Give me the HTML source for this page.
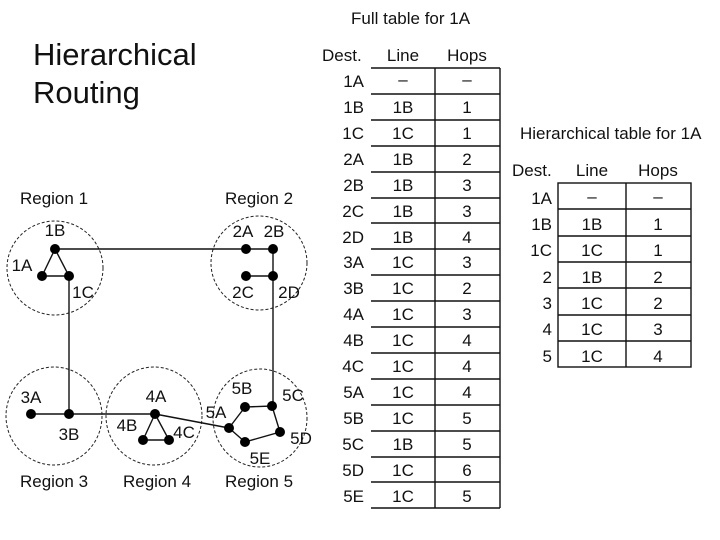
<!DOCTYPE html>
<html><head><meta charset="utf-8"><style>
html,body{margin:0;padding:0;background:#fff;}
svg{display:block;}
text{font-family:"Liberation Sans",Arial,sans-serif;fill:#111;}
</style></head><body>
<svg width="720" height="540" viewBox="0 0 720 540" xmlns="http://www.w3.org/2000/svg">
<text x="33" y="65" font-size="31">Hierarchical</text>
<text x="33" y="103" font-size="31">Routing</text>

<g fill="none" stroke="#222" stroke-width="1" stroke-dasharray="3,2">
<ellipse cx="55" cy="268" rx="48" ry="47"/>
<ellipse cx="259" cy="263" rx="48" ry="47"/>
<ellipse cx="54" cy="416" rx="48" ry="49"/>
<ellipse cx="154" cy="416" rx="48" ry="49"/>
<ellipse cx="260" cy="418" rx="47" ry="49"/>
</g>
<g stroke="#111" stroke-width="1.4" fill="none">
<polyline points="55,249 42,276 69,276 55,249"/>
<line x1="55" y1="249" x2="246" y2="249"/>
<line x1="246" y1="249" x2="273" y2="249"/>
<line x1="273" y1="249" x2="273" y2="407"/>
<line x1="246" y1="276" x2="273" y2="276"/>
<line x1="69" y1="276" x2="69" y2="414"/>
<line x1="31" y1="414" x2="155" y2="414"/>
<polyline points="155,414 143,440 169,440 155,414"/>
<line x1="155" y1="414" x2="229" y2="428"/>
<polyline points="229,428 245,407 272,406 280,432 245,442 229,428"/>
</g>
<g fill="#000">
<circle cx="55" cy="249" r="5"/><circle cx="42" cy="276" r="5"/><circle cx="69" cy="276" r="5"/>
<circle cx="246" cy="249" r="5"/><circle cx="273" cy="249" r="5"/><circle cx="246" cy="276" r="5"/><circle cx="273" cy="276" r="5"/>
<circle cx="31" cy="414" r="5"/><circle cx="69" cy="414" r="5"/>
<circle cx="155" cy="414" r="5"/><circle cx="143" cy="440" r="5"/><circle cx="169" cy="440" r="5"/>
<circle cx="229" cy="428" r="5"/><circle cx="245" cy="407" r="5"/><circle cx="272" cy="406" r="5"/><circle cx="280" cy="432" r="5"/><circle cx="245" cy="442" r="5"/>
</g>
<g font-size="17" text-anchor="middle">
<text x="54" y="204">Region 1</text>
<text x="259" y="204">Region 2</text>
<text x="54" y="487">Region 3</text>
<text x="157" y="487">Region 4</text>
<text x="259" y="487">Region 5</text>
<text x="55" y="236">1B</text><text x="22" y="271">1A</text><text x="83" y="298">1C</text>
<text x="243" y="237">2A</text><text x="274" y="237">2B</text><text x="243" y="298">2C</text><text x="289" y="298">2D</text>
<text x="31" y="403">3A</text><text x="69" y="440">3B</text>
<text x="156" y="402">4A</text><text x="127" y="431">4B</text><text x="184" y="438">4C</text>
<text x="216" y="418">5A</text><text x="242" y="394">5B</text><text x="293" y="401">5C</text><text x="301" y="444">5D</text><text x="260" y="464">5E</text>
</g>

<g font-size="17">
<text x="351" y="24">Full table for 1A</text>
<text x="322" y="61">Dest.</text><text x="403" y="61" text-anchor="middle">Line</text><text x="467" y="61" text-anchor="middle">Hops</text>
</g>
<g stroke="#111" stroke-width="1.4">
<line x1="371" y1="68" x2="500" y2="68"/>
<line x1="435" y1="68" x2="435" y2="508"/>
<line x1="500" y1="68" x2="500" y2="508"/>
</g>

<g font-size="17">
<text x="520" y="139">Hierarchical table for 1A</text>
<text x="512" y="176">Dest.</text><text x="592" y="176" text-anchor="middle">Line</text><text x="658" y="176" text-anchor="middle">Hops</text>
</g>
<g fill="none" stroke="#111" stroke-width="1.4">
<rect x="558" y="183" width="133" height="184"/>
<line x1="626" y1="183" x2="626" y2="367"/>
</g>

<g font-size="17" stroke="none">
<g text-anchor="end">
<text x="364" y="87">1A</text><text x="364" y="113">1B</text><text x="364" y="139">1C</text><text x="364" y="165">2A</text><text x="364" y="191">2B</text><text x="364" y="217">2C</text><text x="364" y="243">2D</text><text x="364" y="268">3A</text><text x="364" y="294">3B</text><text x="364" y="320">4A</text><text x="364" y="346">4B</text><text x="364" y="372">4C</text><text x="364" y="398">5A</text><text x="364" y="424">5B</text><text x="364" y="450">5C</text><text x="364" y="476">5D</text><text x="364" y="502">5E</text>
</g>
<g text-anchor="middle">
<text x="403" y="85" fill="#999">–</text><text x="403" y="113">1B</text><text x="403" y="139">1C</text><text x="403" y="165">1B</text><text x="403" y="191">1B</text><text x="403" y="217">1B</text><text x="403" y="243">1B</text><text x="403" y="268">1C</text><text x="403" y="294">1C</text><text x="403" y="320">1C</text><text x="403" y="346">1C</text><text x="403" y="372">1C</text><text x="403" y="398">1C</text><text x="403" y="424">1C</text><text x="403" y="450">1B</text><text x="403" y="476">1C</text><text x="403" y="502">1C</text>
<text x="467" y="85" fill="#999">–</text><text x="467" y="113">1</text><text x="467" y="139">1</text><text x="467" y="165">2</text><text x="467" y="191">3</text><text x="467" y="217">3</text><text x="467" y="243">4</text><text x="467" y="268">3</text><text x="467" y="294">2</text><text x="467" y="320">3</text><text x="467" y="346">4</text><text x="467" y="372">4</text><text x="467" y="398">4</text><text x="467" y="424">5</text><text x="467" y="450">5</text><text x="467" y="476">6</text><text x="467" y="502">5</text>
</g>
<g text-anchor="end">
<text x="552" y="204">1A</text><text x="552" y="230">1B</text><text x="552" y="256">1C</text><text x="552" y="283">2</text><text x="552" y="309">3</text><text x="552" y="335">4</text><text x="552" y="362">5</text>
</g>
<g text-anchor="middle">
<text x="592" y="202">–</text><text x="592" y="230">1B</text><text x="592" y="256">1C</text><text x="592" y="283">1B</text><text x="592" y="309">1C</text><text x="592" y="335">1C</text><text x="592" y="362">1C</text>
<text x="658" y="202">–</text><text x="658" y="230">1</text><text x="658" y="256">1</text><text x="658" y="283">2</text><text x="658" y="309">2</text><text x="658" y="335">3</text><text x="658" y="362">4</text>
</g>
</g>
<g stroke="#111" stroke-width="1.4">
<line x1="371" y1="94" x2="500" y2="94"/><line x1="371" y1="120" x2="500" y2="120"/><line x1="371" y1="146" x2="500" y2="146"/><line x1="371" y1="172" x2="500" y2="172"/><line x1="371" y1="198" x2="500" y2="198"/><line x1="371" y1="223" x2="500" y2="223"/><line x1="371" y1="249" x2="500" y2="249"/><line x1="371" y1="275" x2="500" y2="275"/><line x1="371" y1="301" x2="500" y2="301"/><line x1="371" y1="327" x2="500" y2="327"/><line x1="371" y1="353" x2="500" y2="353"/><line x1="371" y1="379" x2="500" y2="379"/><line x1="371" y1="405" x2="500" y2="405"/><line x1="371" y1="431" x2="500" y2="431"/><line x1="371" y1="457" x2="500" y2="457"/><line x1="371" y1="482" x2="500" y2="482"/><line x1="371" y1="508" x2="500" y2="508"/>
<line x1="558" y1="209" x2="691" y2="209"/><line x1="558" y1="236" x2="691" y2="236"/><line x1="558" y1="262" x2="691" y2="262"/><line x1="558" y1="288" x2="691" y2="288"/><line x1="558" y1="315" x2="691" y2="315"/><line x1="558" y1="341" x2="691" y2="341"/>
</g>
</svg>
</body></html>
